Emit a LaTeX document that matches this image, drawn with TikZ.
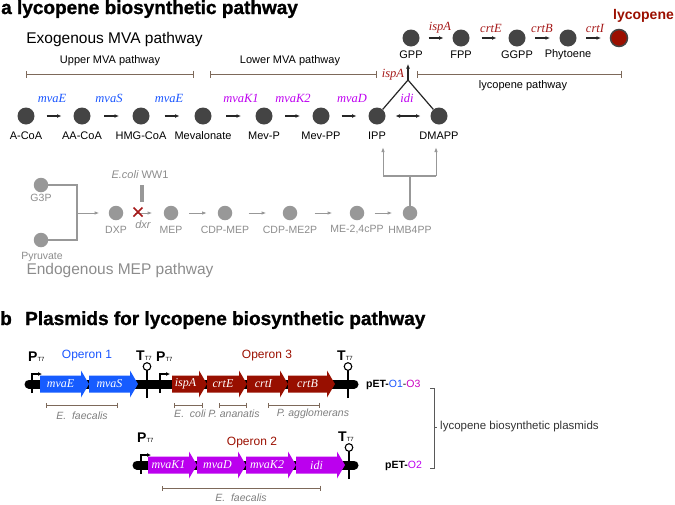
\documentclass[tikz,border=0pt]{standalone}
\usepackage{fontspec}
\setmainfont{Liberation Sans}
\newfontfamily\tnr{Liberation Serif}
\newfontfamily\heavy{Liberation Sans Bold}[FakeBold=1.2]
\usetikzlibrary{arrows.meta,calc}
\definecolor{cblue}{RGB}{25,85,255}
\definecolor{cmag}{RGB}{190,0,240}
\definecolor{cred}{RGB}{165,25,25}
\definecolor{cdred}{RGB}{155,15,0}
\definecolor{cgray}{RGB}{152,152,152}
\definecolor{cgtext}{RGB}{140,140,140}
\definecolor{cbr}{RGB}{125,105,90}
\definecolor{cdark}{RGB}{68,68,68}
\definecolor{gblue}{RGB}{22,92,255}
\definecolor{gred}{RGB}{152,15,0}
\definecolor{gmag}{RGB}{187,0,238}
\newcommand\marr[3][rxn]{\draw[#1] ($(#2)!.5!(#3)+(-7.5,0)$) -- ($(#2)!.5!(#3)+(7.5,0)$);}
\newcommand\garr[2]{\draw[grxn] ($(#1)!.5!(#2)+(-9,0)$) -- ($(#1)!.5!(#2)+(9,0)$);}
% gene: x0, x1, y, colour, name, label
\newcommand\gene[6]{%
 \fill[#4] (#1,#3-8.5) -- (#2-8,#3-8.5) -- (#2-8,#3-13.5) -- (#2,#3) -- (#2-8,#3+13.5) -- (#2-8,#3+8.5) -- (#1,#3+8.5) -- cycle;
 \node[gtxt] (#5) at ({(#1+#2-8)/2},#3) {#6};}
% promoter: x, y, name
\newcommand\prom[3]{%
 \draw[line width=1.1pt,-{Latex[length=4pt,width=4pt]}] (#1,#2+9) |- (#1+10,#2-10);
 \node[anchor=base west,inner sep=0pt] (#3) at (#1-4,#2-23) {\fontsize{14}{16}\selectfont\bfseries P\fontsize{6}{7}\selectfont\mdseries T7};}
% terminator: x, y, name
\newcommand\term[3]{%
 \draw[line width=1.1pt] (#1,#2+14) -- (#1,#2-14);
 \draw[line width=1.1pt,fill=white] (#1,#2-17.5) circle (3.8);
 \node[anchor=base west,inner sep=0pt] (#3) at (#1-11,#2-24) {\fontsize{14}{16}\selectfont\bfseries T\fontsize{6}{7}\selectfont\mdseries T7};}
\begin{document}
\begin{tikzpicture}[x=1pt,y=-1pt,
  mc/.style={circle,fill=cdark,minimum size=17pt,inner sep=0pt},
  gc/.style={circle,fill=cgray,minimum size=14.5pt,inner sep=0pt},
  lab/.style={font=\fontsize{11}{13}\selectfont,inner sep=0pt},
  glab/.style={font=\fontsize{10.5}{12}\selectfont,text=cgtext,inner sep=0pt},
  enz/.style={font=\tnr\itshape\fontsize{12.5}{14}\selectfont,inner sep=0pt},
  gtxt/.style={font=\tnr\itshape\fontsize{12}{14}\selectfont,text=white,inner sep=0pt},
  rxn/.style={-{Latex[length=4.5pt,width=4pt]},line width=1.2pt,black!85},
  drxn/.style={{Latex[length=4.5pt,width=4pt]}-{Latex[length=4.5pt,width=4pt]},line width=1.2pt,black!85},
  grxn/.style={-{Latex[length=5pt,width=3.5pt]},line width=1pt,cgray},
  gline/.style={line width=1.3pt,cgray},
  brk/.style={{Bar[width=7pt]}-{Bar[width=7pt]},line width=1pt,cbr},
  sbrk/.style={{Bar[width=5pt]}-{Bar[width=5pt]},line width=1pt,cbr},
  spec/.style={font=\itshape\fontsize{10.5}{12}\selectfont,text=cgtext!90!black,inner sep=0pt},
  bb/.style={line width=9pt,line cap=round,black}]
\useasboundingbox (0,0) rectangle (675,504);

% ---------------- panel a
\node[anchor=base west,inner sep=0pt] (ta) at (1,14) {\heavy\fontsize{19}{21}\selectfont a lycopene biosynthetic pathway};
\node[inner sep=0pt,font=\fontsize{15.5}{18}\selectfont] (exo) at (114.5,39) {Exogenous MVA pathway};

\node[lab] (up) at (110,61) {Upper MVA pathway};
\node[lab] (lo) at (290,61) {Lower MVA pathway};
\node[lab] (lp) at (523,86) {lycopene pathway};
\draw[brk] (26,74) -- (194,74);
\draw[brk] (210,74) -- (377,74);
\draw[brk] (417,74) -- (622,74);

% bottom row
\node[mc] (A) at (26,116) {};
\node[mc] (AA) at (82,116) {};
\node[mc] (HMG) at (141,116) {};
\node[mc] (Mev) at (203,116) {};
\node[mc] (MevP) at (264,116) {};
\node[mc] (MevPP) at (321,116) {};
\node[mc] (IPP) at (377,116) {};
\node[mc] (DMAPP) at (439,116) {};
\foreach \n/\t in {A/A-CoA,AA/AA-CoA,HMG/HMG-CoA,Mev/Mevalonate,MevP/Mev-P,MevPP/Mev-PP,IPP/IPP,DMAPP/DMAPP}
  \node[lab] (\n l) at ($(\n)+(0,20)$) {\t};
\marr{A}{AA}
\marr{AA}{HMG}
\marr{HMG}{Mev}
\marr{Mev}{MevP}
\marr{MevP}{MevPP}
\marr{MevPP}{IPP}
\draw[drxn] ($(IPP)!.5!(DMAPP)+(-12.5,0)$) -- ($(IPP)!.5!(DMAPP)+(12.5,0)$);
\node[enz,text=cblue] (e1) at (52,98) {mvaE};
\node[enz,text=cblue] (e2) at (109,98) {mvaS};
\node[enz,text=cblue] (e3) at (169,98) {mvaE};
\node[enz,text=cmag] (e4) at (241,98) {mvaK1};
\node[enz,text=cmag] (e5) at (293,98) {mvaK2};
\node[enz,text=cmag] (e6) at (352,98) {mvaD};
\node[enz,text=cmag] (e7) at (407,98) {idi};

% junction to GPP
\coordinate (J) at (408,80);
\coordinate (Jt) at (408,64);
\draw[line width=1.2pt,black!85] (IPP) -- (J) -- (DMAPP);
\draw[rxn] (J) -- (Jt);
\node[enz,text=cred] (e8) at (393,75) {ispA};

% top row
\node[mc] (GPP) at (411,38) {};
\node[mc] (FPP) at (461,38) {};
\node[mc] (GGPP) at (517,38) {};
\node[mc] (Phy) at (568,38) {};
\node[circle,fill=cdred,draw=cdark,line width=1.5pt,minimum size=17pt,inner sep=0pt] (Lyc) at (619,38) {};
\foreach \n/\t in {GPP/GPP,FPP/FPP,GGPP/GGPP,Phy/Phytoene}
  \node[lab] (\n l) at ($(\n)+(0,16.5)$) {\t};
\node[inner sep=0pt,font=\bfseries\fontsize{14}{16}\selectfont,text=cdred] (Lycl) at (643.5,16) {lycopene};
\marr{GPP}{FPP}
\marr{FPP}{GGPP}
\marr{GGPP}{Phy}
\marr{Phy}{Lyc}
\node[enz,text=cred] (e9) at (440,28) {ispA};
\node[enz,text=cred] (e10) at (491,28) {crtE};
\node[enz,text=cred] (e11) at (542,28) {crtB};
\node[enz,text=cred] (e12) at (595,28) {crtI};

% MEP pathway
\node[gc] (G3P) at (41,185) {};
\node[gc] (Pyr) at (41,240) {};
\node[glab] (G3Pl) at (41,197.5) {G3P};
\node[glab] (Pyrl) at (42,257) {Pyruvate};
\node[gc] (DXP) at (116,213) {};
\node[gc] (MEP) at (171,213) {};
\node[gc] (CDPMEP) at (225,213) {};
\node[gc] (CDPME) at (290,213) {};
\node[gc] (MEc) at (357,213) {};
\node[gc] (HMB) at (410,213) {};
\foreach \n/\t in {DXP/DXP,MEP/MEP,CDPMEP/CDP-MEP,CDPME/CDP-ME2P,MEc/{ME-2,4cPP},HMB/HMB4PP}
  \node[glab] (\n l) at ($(\n)+(0,17)$) {\t};
\coordinate (M) at (77,213);
\draw[gline] (G3P) -| (M);
\draw[gline] (Pyr) -| (M);
\draw[grxn,shorten >=9pt] (M) -- (DXP);
\garr{DXP}{MEP}
\garr{MEP}{CDPMEP}
\garr{CDPMEP}{CDPME}
\garr{CDPME}{MEc}
\garr{MEc}{HMB}
\coordinate (X) at (138,212);
\draw[cred,line width=1.5pt] ($(X)+(-4.5,-4.5)$) -- ($(X)+(4.5,4.5)$) ($(X)+(-4.5,4.5)$) -- ($(X)+(4.5,-4.5)$);
\node[inner sep=0pt,font=\itshape\fontsize{11}{13}\selectfont,text=cgtext] (dxr) at (143,225) {dxr};
\draw[line width=3.5pt,cgray] (142,185) -- (142,202);
\node[inner sep=0pt,font=\fontsize{11}{13}\selectfont,text=cgtext] (ww1) at (140,175) {\itshape E.coli\upshape{} WW1};
\node[inner sep=0pt,font=\fontsize{15.5}{18}\selectfont,text=cgtext] (endo) at (120,270) {Endogenous MEP pathway};
\coordinate (hj) at (410,176);
\coordinate (hl) at (383,176);
\coordinate (hr) at (436,176);
\coordinate (hlt) at (383,147);
\coordinate (hrt) at (436,147);
\draw[gline] (HMB) -- (hj);
\draw[gline] (hl) -- (hr);
\draw[grxn] (hl) -- (hlt);
\draw[grxn] (hr) -- (hrt);

% ---------------- panel b
\node[anchor=base west,inner sep=0pt] (tb) at (0,325) {\heavy\fontsize{19}{21}\selectfont b};
\node[anchor=base west,inner sep=0pt] (tb2) at (25,325) {\heavy\fontsize{19}{21}\selectfont Plasmids for lycopene biosynthetic pathway};

% plasmid 1
\draw[bb] (29,384) -- (354,384);
\gene{40}{89}{384}{gblue}{g1}{mvaE}
\gene{89}{138}{384}{gblue}{g2}{mvaS}
\gene{172}{207}{384}{gred}{g3}{ispA}
\gene{207}{247}{384}{gred}{g4}{crtE}
\gene{247}{288}{384}{gred}{g5}{crtI}
\gene{288}{335}{384}{gred}{g6}{crtB}
\prom{32}{384}{p1}
\term{147}{384}{t1}
\prom{160}{384}{p2}
\term{348}{384}{t2}
\node[inner sep=0pt,font=\fontsize{12}{14}\selectfont,text=cblue] (op1) at (87,356) {Operon 1};
\node[inner sep=0pt,font=\fontsize{12}{14}\selectfont,text=cdred] (op3) at (267,356) {Operon 3};
\node[anchor=west,inner sep=0pt,font=\fontsize{10.5}{12}\selectfont] (pet1) at (366,385) {\textbf{pET-}\textcolor{cblue}{O1}-\textcolor{cmag!80!red}{O3}};
\draw[sbrk] (46,405) -- (118,405);
\draw[sbrk] (174,405) -- (203,405);
\draw[sbrk] (219,405) -- (247,405);
\draw[sbrk] (268,405) -- (320,405);
\node[spec] (s1) at (82,416) {E.\ \ faecalis};
\node[spec] (s2) at (190,414) {E.\ \ coli};
\node[spec] (s3) at (234,414) {P. ananatis};
\node[spec] (s4) at (313,414) {P. agglomerans};

% plasmid 2
\draw[bb] (137,465) -- (354,465);
\gene{148}{197}{465}{gmag}{g7}{mvaK1}
\gene{197}{246}{465}{gmag}{g8}{mvaD}
\gene{246}{296}{465}{gmag}{g9}{mvaK2}
\gene{296}{345}{465}{gmag}{g10}{idi}
\prom{141}{465}{p3}
\term{349}{465}{t3}
\node[inner sep=0pt,font=\fontsize{12}{14}\selectfont,text=cdred] (op2) at (252,443) {Operon 2};
\node[anchor=west,inner sep=0pt,font=\fontsize{10.5}{12}\selectfont] (pet2) at (385,466) {\textbf{pET-}\textcolor{cmag}{O2}};
\draw[sbrk] (162,488) -- (321,488);
\node[spec] (s5) at (241,498) {E.\ \ faecalis};

% brace
\draw[line width=1pt,black!65] (430,388) -- (434,388) -- (434,468) -- (430,468);
\draw[line width=1pt,black!65] (434,427) -- (437,427);
\node[anchor=west,inner sep=0pt,font=\fontsize{11.5}{13}\selectfont,text=black!80] (lbp) at (440,427) {lycopene biosynthetic plasmids};
\end{tikzpicture}
\end{document}
